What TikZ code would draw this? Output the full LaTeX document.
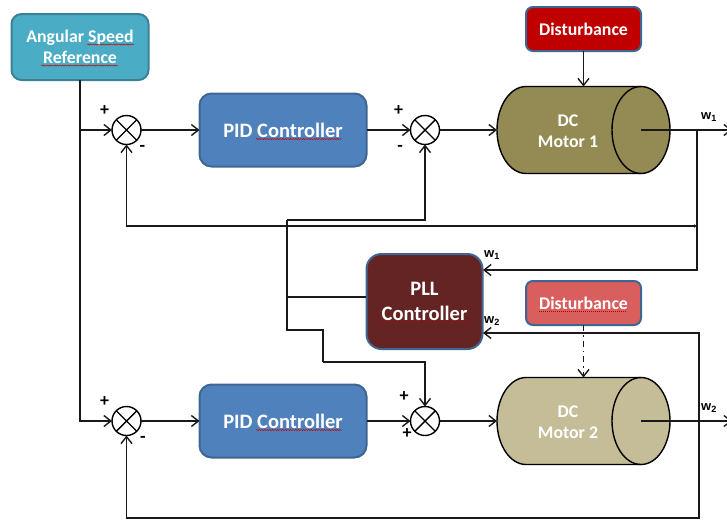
\documentclass[tikz,border=0pt]{standalone}
\usepackage{fontspec}
\setmainfont{Carlito}
\newfontfamily\labelfont{Liberation Sans}
\usetikzlibrary{arrows.meta,decorations.pathmorphing,calc}
\definecolor{cRef}{HTML}{4BACC6}
\definecolor{cRefB}{HTML}{3A8197}
\definecolor{cPid}{HTML}{4F81BD}
\definecolor{cBord}{HTML}{3F6592}
\definecolor{cDis}{HTML}{C00000}
\definecolor{cDisL}{HTML}{D95E5E}
\definecolor{cPll}{HTML}{632423}
\definecolor{cM}{HTML}{948A54}
\definecolor{cML}{HTML}{C4BD97}
\tikzset{
  x=1pt,y=-1pt,
  blockbox/.style={draw=cBord,line width=2pt,rounded corners=#1,inner sep=0pt,outer sep=0pt,align=center,
     text=white,font=\fontsize{17.8}{21.5}\selectfont\bfseries},
  bigtext/.style={font=\fontsize{20.5}{25}\selectfont\bfseries},
  conn/.style={line width=1.4pt,draw=black!90},
  arr/.style={conn,-{Straight Barb[length=7pt,width=11pt,line width=1.4pt]}},
  sumcirc/.style={circle,draw=black,line width=1.4pt,fill=white,minimum size=29pt,inner sep=0pt,outer sep=0pt},
  motorarea/.style={minimum width=173pt,minimum height=87pt,inner sep=0pt,outer sep=0pt},
  motorshape/.style={draw=black,line width=1.4pt,fill=#1},
  motortext/.style={text=white,align=center,font=\fontsize{17.8}{21.5}\selectfont\bfseries,inner sep=0pt},
  signlab/.style={font=\fontsize{18}{18}\selectfont\bfseries,inner sep=0pt},
  wlab/.style={font=\labelfont\fontsize{13}{13}\selectfont\bfseries,inner sep=0pt},
  squig/.style={draw=red!80!black,line width=.5pt,decorate,decoration={snake,amplitude=.6pt,segment length=2.6pt}},
  dotsq/.style={draw=red!70!black,line width=.7pt,dash pattern=on .8pt off 1.2pt},
}
\newcommand{\crossin}[1]{\draw[line width=1.4pt] (#1.45)--(#1.225) (#1.135)--(#1.315);}
\newcommand{\motorbody}[2]{% center y, fill
  \draw[motorshape=#2] (526,#1-43.5) -- (641,#1-43.5)
     .. controls (657,#1-43.5) and (670,#1-24) .. (670,#1)
     .. controls (670,#1+24) and (657,#1+43.5) .. (641,#1+43.5)
     -- (526,#1+43.5)
     .. controls (510,#1+43.5) and (497,#1+24) .. (497,#1)
     .. controls (497,#1-24) and (510,#1-43.5) .. (526,#1-43.5) -- cycle;
  \draw[line width=1.4pt] (641,#1-43.5)
     .. controls (625,#1-43.5) and (612,#1-24) .. (612,#1)
     .. controls (612,#1+24) and (625,#1+43.5) .. (641,#1+43.5);
}
\begin{document}
\begin{tikzpicture}
\useasboundingbox (0,0) rectangle (727,520);
\clip (0,0) rectangle (727,520);
% motors
\motorbody{130}{cM}
\motorbody{421}{cML}
\node[motorarea] (m1) at (583.5,130) {};
\node[motorarea] (m2) at (583.5,421) {};
\node[motortext] (m1t) at (568,131) {DC\\Motor 1};
\node[motortext] (m2t) at (568,422) {DC\\Motor 2};
\coordinate (m1c) at (641,130);
\coordinate (m2c) at (641,421);
% blocks
\node[blockbox=10pt,draw=cRefB,fill=cRef,minimum width=137pt,minimum height=66pt] (ref) at (80,47) {Angular Speed\\Reference};
\node[blockbox=12pt,bigtext,fill=cPid,minimum width=167pt,minimum height=73pt] (pid1) at (283,130) {PID Controller};
\node[blockbox=12pt,bigtext,fill=cPid,minimum width=167pt,minimum height=73pt] (pid2) at (283,421) {PID Controller};
\node[blockbox=7pt,fill=cDis,minimum width=115pt,minimum height=44pt] (d1) at (583.5,29) {Disturbance};
\node[blockbox=7pt,fill=cDisL,minimum width=115pt,minimum height=44pt] (d2) at (583.5,303) {Disturbance};
\node[blockbox=15pt,bigtext,fill=cPll,minimum width=116pt,minimum height=95pt] (pll) at (424.5,301.5) {PLL\\Controller};
% sums
\node[sumcirc] (s1) at (126.5,130) {}; \crossin{s1}
\node[sumcirc] (s2) at (425,130) {}; \crossin{s2}
\node[sumcirc] (s3) at (126.5,421) {}; \crossin{s3}
\node[sumcirc] (s4) at (425,421) {}; \crossin{s4}
% junctions
\coordinate (o1) at (732,130);
\coordinate (o2) at (732,421);
\coordinate (j1) at (697,130);
\coordinate (j2) at (697,226);
\coordinate (j3) at (699,421);
\coordinate (w1in) at (483,270);
\coordinate (w2in) at (483,333);
\coordinate (pllo) at (366,297);
\coordinate (c1) at (287,220);
\coordinate (c2) at (287,297);
\coordinate (c3) at (287,330);
\coordinate (c4) at (323,330);
\coordinate (c5) at (323,362);
\coordinate (b1) at (699,518);
% connectors
\draw[arr] (ref.south) |- (s1.west);
\draw[arr] (ref.south) |- (s3.west);
\draw[arr] (s1) -- (pid1);
\draw[arr] (s3) -- (pid2);
\draw[arr] (pid1) -- (s2);
\draw[arr] (pid2) -- (s4);
\draw[arr] (s2) -- (m1);
\draw[arr] (s4) -- (m2);
\draw[arr] (d1) -- (m1);
\draw[arr,dash pattern=on 6pt off 4pt on 1.5pt off 4pt] (d2) -- (m2);
\draw[arr] (m1c) -- (o1);
\draw[arr] (m2c) -- (o2);
\draw[arr] (j1) |- (w1in);
\draw[arr,{Stealth[length=3pt,width=3.5pt]}-{Straight Barb[length=7pt,width=11pt,line width=1.4pt]}] (j2) -| (s1.south);
\draw[arr] (j3) |- (w2in);
\draw[arr] (j3) |- (b1) -| (s3.south);
\draw[arr] (c1) -| (s2.south);
\draw[conn] (c1) -- (c3) -- (c4) -- (c5);
\draw[arr] (c5) -| (s4.north);
\draw[conn] (pllo) -- (c2);
% labels
\node[signlab] (p1) at (104.5,111) {+};
\node[signlab] (n1) at (142.5,148) {-};
\node[signlab] (p2) at (398.5,111) {+};
\node[signlab] (n2) at (400,148) {-};
\node[signlab] (p3) at (104.5,402) {+};
\node[signlab] (n3) at (143,439) {-};
\node[signlab] (p4) at (404,397) {+};
\node[signlab] (p5) at (407,434) {+};
\node[wlab] (w1a) at (709,117) {w\textsubscript{1}};
\node[wlab] (w1b) at (492,255) {w\textsubscript{1}};
\node[wlab] (w2b) at (492,321) {w\textsubscript{2}};
\node[wlab] (w2a) at (709,408) {w\textsubscript{2}};
% spelling marks under the words
\draw[squig] (87,44.5) -- (134,44.5);
\draw[squig] (41,65.5) -- (118,65.5);
\draw[squig] (256,139) -- (342,139);
\draw[squig] (256,430) -- (342,430);
\draw[dotsq] (539,37.5) -- (626,37.5);
\draw[dotsq] (539,311.5) -- (626,311.5);
\draw[dotsq] (381,321.5) -- (468,321.5);
\end{tikzpicture}
\end{document}
